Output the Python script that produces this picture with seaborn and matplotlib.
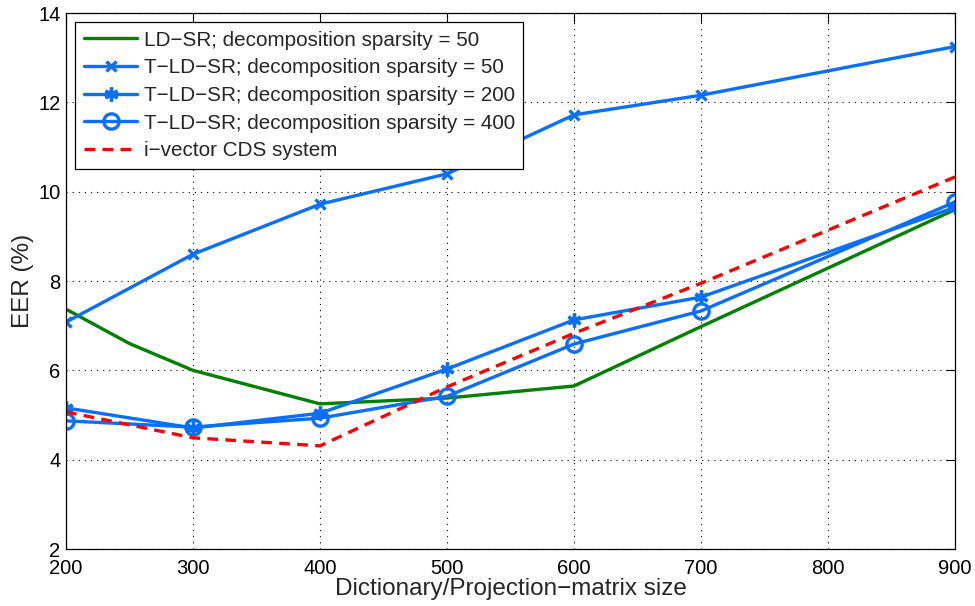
import matplotlib
matplotlib.use("Agg")
import matplotlib.pyplot as plt
import seaborn as sns
import numpy as np

sns.set_theme(style="white")
plt.rcParams['font.family'] = ['Liberation Sans', 'DejaVu Sans']
plt.rcParams['axes.unicode_minus'] = True

x_ldsr = [200, 250, 300, 400, 500, 600, 700, 900]
ldsr_50 = [7.37, 6.60, 6.00, 5.25, 5.38, 5.65, 6.98, 9.60]

x_sizes = [200, 300, 400, 500, 600, 700, 900]
tldsr_50 = [7.08, 8.60, 9.72, 10.40, 11.72, 12.16, 13.25]
tldsr_200 = [5.16, 4.71, 5.04, 6.03, 7.13, 7.64, 9.65]
tldsr_400 = [4.87, 4.73, 4.93, 5.42, 6.59, 7.33, 9.77]
cds = [5.07, 4.49, 4.31, 5.63, 6.83, 7.95, 10.33]

labels = [
    "LD\u2212SR; decomposition sparsity = 50",
    "T\u2212LD\u2212SR; decomposition sparsity = 50",
    "T\u2212LD\u2212SR; decomposition sparsity = 200",
    "T\u2212LD\u2212SR; decomposition sparsity = 400",
    "i\u2212vector CDS system",
]
xlabel = "Dictionary/Projection\u2212matrix size"
ylabel = "EER (%)"
xticks = [200, 300, 400, 500, 600, 700, 800, 900]
yticks = [2, 4, 6, 8, 10, 12, 14]

green = "#008000"
blue = "#0a6eff"
red = "#ff0000"

fig = plt.figure(figsize=(9.75, 6.06), dpi=100)
ax = fig.add_axes([0.0677, 0.094, 0.9118, 0.8845])

lw = 2.4
common = dict(markeredgecolor=blue, markeredgewidth=2.4)
sns.lineplot(x=x_ldsr, y=ldsr_50, ax=ax, color=green, linewidth=lw, label=labels[0])
sns.lineplot(x=x_sizes, y=tldsr_50, ax=ax, color=blue, linewidth=lw, marker="x",
             markersize=7, label=labels[1], **common)
sns.lineplot(x=x_sizes, y=tldsr_200, ax=ax, color=blue, linewidth=lw, marker=(6, 2, 0),
             markersize=10, label=labels[2], **common)
sns.lineplot(x=x_sizes, y=tldsr_400, ax=ax, color=blue, linewidth=lw, marker="o",
             markersize=11, markerfacecolor="none", label=labels[3], **common)
sns.lineplot(x=x_sizes, y=cds, ax=ax, color=red, linewidth=lw, linestyle=(0, (3.2, 2.2)),
             label=labels[4])

ax.set_xlim(200, 900)
ax.set_ylim(2, 14)
ax.set_xticks(xticks)
ax.set_yticks(yticks)
ax.tick_params(axis="both", direction="in", top=True, right=True, labelsize=14.5,
               length=6.5, width=0.8, colors="black")
ax.tick_params(axis="x", pad=7)
ax.tick_params(axis="y", pad=4)
ax.grid(True, color="black", linestyle=(0, (1, 4.5)), linewidth=0.8)
for s in ax.spines.values():
    s.set_color("black")
    s.set_linewidth(0.9)
ax.set_xlabel(xlabel, fontsize=17.5, labelpad=0)
ax.set_ylabel(ylabel, fontsize=17.5, labelpad=3)

leg = ax.legend(loc="upper left", fontsize=14.9, frameon=True, fancybox=False,
                edgecolor="black", borderaxespad=0.45, handlelength=2.6,
                labelspacing=0.42, borderpad=0.4, handletextpad=0.3)
leg.get_frame().set_linewidth(0.9)
leg.get_frame().set_alpha(1)

fig.savefig("out.png", dpi=100, facecolor="white")
